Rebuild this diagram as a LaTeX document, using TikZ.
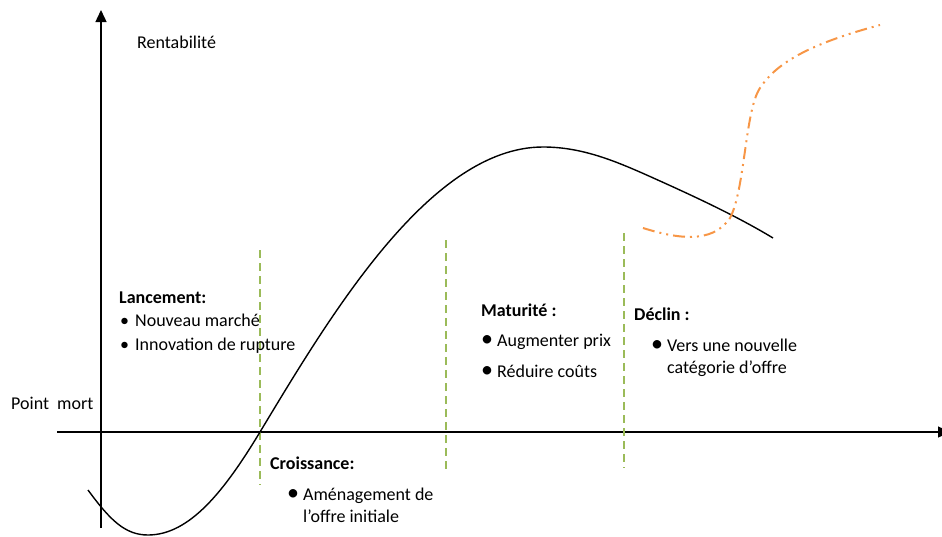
\documentclass[tikz,border=0pt]{standalone}
\usepackage{fontspec}
\setmainfont{Carlito}
\usetikzlibrary{arrows.meta,positioning}
\definecolor{vertphase}{HTML}{9BBB59}
\definecolor{orangeoffre}{HTML}{F79646}
\newcommand{\puce}{{\fontsize{24}{24}\selectfont\textbullet}}

\begin{document}
\begin{tikzpicture}[x=1pt,y=-1pt,>={Triangle[length=12pt,width=11pt]},
	axe/.style={line width=1.4pt},
	phase/.style={vertphase,line width=2pt,dash pattern=on 8pt off 5pt},
	texte/.style={anchor=base west,inner sep=0pt,font=\fontsize{18}{22}\selectfont},
	titre/.style={texte,font=\fontsize{18}{22}\selectfont\bfseries}]
	\useasboundingbox (0,0) rectangle (942,536);
	% axes
	\coordinate (y_0) at (101,528);
	\coordinate (y_1) at (101,10);
	\coordinate (x_0) at (57,432);
	\coordinate (x_1) at (950,432);
	\draw[axe,->] (y_0) -- (y_1);
	\draw[axe,->] (x_0) -- (x_1);
	\node[texte] (rentab) at (137,48) {Rentabilité};
	\node[texte] (mort) at (11,409) {Point\ \ mort};
	% phases
	\coordinate (p_1a) at (260,250); \coordinate (p_1b) at (260,485);
	\coordinate (p_2a) at (446,240); \coordinate (p_2b) at (446,472);
	\coordinate (p_3a) at (624,233); \coordinate (p_3b) at (624,468);
	\draw[phase] (p_1a) -- (p_1b);
	\draw[phase] (p_2a) -- (p_2b);
	\draw[phase] (p_3a) -- (p_3b);
	% courbe
	\draw[line width=1.4pt] (88,490) .. controls (110,520) and (125,535) .. (148,535)
		.. controls (190,535) and (225,490) .. (260,432)
		.. controls (330,316) and (430,147) .. (543,147)
		.. controls (585,147) and (620,163) .. (660,181)
		.. controls (700,199) and (740,218) .. (773,238);
	\draw[orangeoffre,line width=2pt,dash pattern=on 12pt off 5pt on 2pt off 5pt on 2pt off 5pt]
		(643,228) .. controls (675,238) and (712,245) .. (730,218)
		.. controls (745,190) and (745,110) .. (760,88)
		.. controls (775,65) and (805,45) .. (880,25);
	% textes
	\node[titre] (lanc) at (119,303) {Lancement:};
	\node[texte] (lanc_1) at (120,326) {\textbullet\hspace{6pt}Nouveau marché};
	\node[texte] (lanc_2) at (120,350) {\textbullet\hspace{6pt}Innovation de rupture};
	\node[titre] (crois) at (270,469) {Croissance:};
	\node[texte] (crois_1) at (287,500) {\puce\hspace{4pt}Aménagement de};
	\node[texte] (crois_2) at (303,522) {l’offre initiale};
	\node[titre] (matu) at (481,316) {Maturité :};
	\node[texte] (matu_1) at (481,346) {\puce\hspace{4pt}Augmenter prix};
	\node[texte] (matu_2) at (481,377) {\puce\hspace{4pt}Réduire coûts};
	\node[titre] (decl) at (634,320) {Déclin :};
	\node[texte] (decl_1) at (651,351) {\puce\hspace{4pt}Vers une nouvelle};
	\node[texte] (decl_2) at (667,373) {catégorie d’offre};
\end{tikzpicture}
\end{document}
